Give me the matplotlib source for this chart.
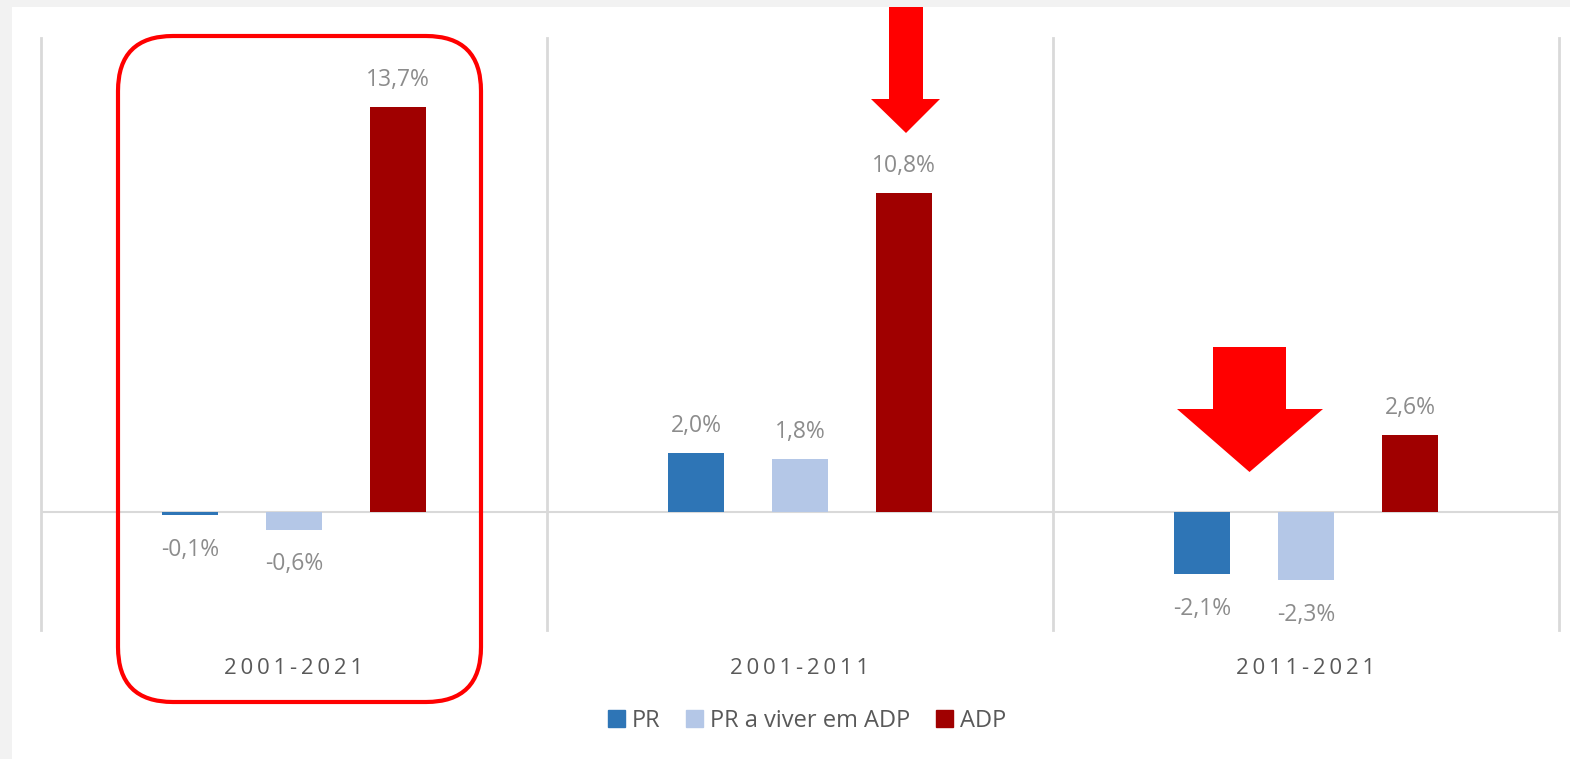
"""
Population growth by period: PR, PR living in ADP, ADP.
"""
import matplotlib
matplotlib.use("Agg")
import matplotlib.pyplot as plt
from matplotlib.patches import Patch, FancyBboxPatch, Polygon, Rectangle
import numpy as np

periods = ["2001-2021", "2001-2011", "2011-2021"]
series_names = ["PR", "PR a viver em ADP", "ADP"]
pr = [-0.1, 2.0, -2.1]
pr_adp = [-0.6, 1.8, -2.3]
adp = [13.7, 10.8, 2.6]
colors = ["#2e75b6", "#b4c7e7", "#a00000"]

plt.rcParams["font.family"] = ["Open Sans", "DejaVu Sans"]

W, H = 1570, 759
fig = plt.figure(figsize=(W / 100, H / 100), dpi=100, facecolor="#f2f2f2")
inch = fig.dpi_scale_trans  # positions below in pixels / 100


def px(xp, yp):
    return (xp / 100, (H - yp) / 100)


# white panel
fig.patches.append(Rectangle(px(12, H), (W - 12) / 100, (H - 7) / 100, transform=inch,
                             fc="white", ec="none", zorder=-5))

ax = fig.add_axes([41 / W, 1 - 630 / H, (1559 - 41) / W, (630 - 38) / H], zorder=1)
ax.set_facecolor("none")
ax.set_xlim(-0.5, 2.5)
ax.set_ylim(-4.0, 16.05)
for s in ax.spines.values():
    s.set_visible(False)
ax.set_xticks([])
ax.set_yticks([])

x = np.arange(len(periods))
offset = 0.2055
width = 0.109
for i, (vals, col) in enumerate(zip([pr, pr_adp, adp], colors)):
    xs = x + (i - 1) * offset
    ax.bar(xs, vals, width=width, color=col, zorder=2)
    for xi, v in zip(xs, vals):
        txt = f"{v:.1f}".replace(".", ",") + "%"
        dy = 19.5 if v >= 0 else -25
        ax.annotate(txt, (xi, v), xytext=(0, dy), textcoords="offset points",
                    ha="center", va="center", fontsize=16.5, color="#8c8c8c")

# zero line and group separators
ax.axhline(0, color="#d9d9d9", lw=1.5, zorder=1)
for b in [-0.5, 0.5, 1.5, 2.5]:
    ax.axvline(b, color="#d9d9d9", lw=2, zorder=1, clip_on=False)

# category labels (letter spaced with thin spaces)
for xi, p in zip(x, periods):
    ax.annotate("\u2009".join(p), (xi, -4.0), xytext=(0, -28), textcoords="offset points",
                ha="center", va="center", fontsize=16, color="#595959", annotation_clip=False)

handles = [Patch(color=c) for c in colors]
fig.legend(handles, series_names, loc="center", bbox_to_anchor=(807 / W, 1 - 721 / H), ncol=3,
           frameon=False, fontsize=17, handlelength=0.7, handleheight=0.7,
           handletextpad=0.3, columnspacing=1.1, labelcolor="#595959")

# red highlight box around first group
box = FancyBboxPatch(px(118, 702), (481 - 118) / 100, (702 - 36) / 100,
                     boxstyle="round,pad=0,rounding_size=0.55", transform=inch,
                     fc="none", ec="#ff0000", lw=3, zorder=5)
fig.patches.append(box)


def arrow(shaft_l, shaft_r, top, neck, head_l, head_r, tip):
    pts = [(shaft_l, top), (shaft_r, top), (shaft_r, neck), (head_r, neck),
           ((shaft_l + shaft_r) / 2, tip), (head_l, neck), (shaft_l, neck)]
    fig.patches.append(Polygon([px(a, b) for a, b in pts], closed=True, transform=inch,
                               fc="#ff0000", ec="none", zorder=5))


arrow(889, 923, 7, 99, 871, 940, 133)
arrow(1213, 1286, 347, 409, 1177, 1323, 472)

fig.savefig("out.png", dpi=100, facecolor=fig.get_facecolor())
